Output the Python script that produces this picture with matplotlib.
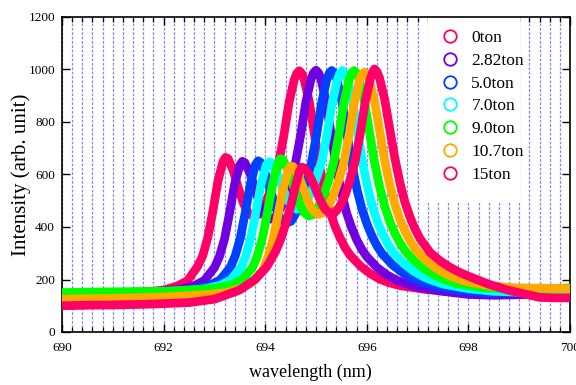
import matplotlib
matplotlib.use("Agg")
import matplotlib.pyplot as plt
from matplotlib.lines import Line2D
from matplotlib.patches import Rectangle
from matplotlib.ticker import MultipleLocator

# ---------------- data ----------------
labels = ["0ton", "2.82ton", "5.0ton", "7.0ton", "9.0ton", "10.7ton", "15ton"]
colors = ["#FF0066", "#7000E0", "#0040FF", "#00FFFF", "#00FF00", "#FFAA00", "#FF0066"]

wl_0 = [690.0, 690.5, 691.0, 691.5, 692.0, 692.27, 692.47, 692.67, 692.77, 692.87, 692.97, 693.07,
        693.17, 693.22, 693.27, 693.37, 693.47, 693.57, 693.67, 693.77, 693.87, 693.97, 694.07,
        694.17, 694.27, 694.37, 694.47, 694.57, 694.62, 694.67, 694.72, 694.77, 694.87, 694.97,
        695.07, 695.17, 695.27, 695.37, 695.47, 695.57, 695.67, 695.87, 696.07, 696.27, 696.47,
        696.67, 697.17, 697.67, 698.2, 698.7, 699.2, 699.6, 700.0]
int_0 = [135, 138, 142, 148, 160, 175, 195, 250, 290, 360, 460, 575,
         650, 665, 660, 615, 550, 490, 452, 440, 448, 478, 522,
         578, 648, 752, 875, 960, 985, 995, 985, 960, 875, 752,
         632, 538, 462, 405, 360, 322, 293, 252, 222, 200, 186,
         176, 162, 153, 148, 146, 144, 145, 143]

wl_282 = [690.0, 690.5, 691.0, 691.5, 692.0, 692.3, 692.6, 692.8, 693.0, 693.1, 693.2, 693.3,
          693.4, 693.5, 693.55, 693.6, 693.7, 693.8, 693.9, 694.0, 694.1, 694.2, 694.3, 694.4,
          694.5, 694.6, 694.7, 694.8, 694.9, 694.95, 695.0, 695.05, 695.1, 695.2, 695.3, 695.4,
          695.5, 695.6, 695.7, 695.8, 695.9, 696.0, 696.2, 696.4, 696.6, 696.8, 697.0, 697.5,
          698.0, 698.5, 699.0, 699.5, 700.0]
int_282 = [142, 144, 146, 150, 155, 162, 176, 196, 245, 288, 355, 455,
           565, 635, 650, 645, 605, 545, 482, 442, 430, 438, 470, 515,
           575, 648, 752, 875, 962, 987, 997, 987, 962, 875, 750, 628,
           532, 455, 398, 352, 315, 287, 246, 217, 196, 182, 170, 155,
           143, 140, 142, 145, 146]

wl_50 = [690.0, 690.5, 691.0, 691.5, 692.0, 692.5, 692.61, 692.91, 693.11, 693.31, 693.41, 693.51,
         693.61, 693.71, 693.81, 693.86, 693.91, 694.01, 694.11, 694.21, 694.31, 694.41, 694.51,
         694.61, 694.71, 694.81, 694.91, 695.01, 695.11, 695.21, 695.26, 695.31, 695.36, 695.41,
         695.51, 695.61, 695.71, 695.81, 695.91, 696.01, 696.11, 696.21, 696.31, 696.51, 696.71,
         696.91, 697.11, 697.31, 697.81, 698.3, 698.8, 699.3, 699.7, 700.0]
int_50 = [145, 148, 150, 152, 156, 160, 165, 178, 198, 245, 290, 358,
          458, 566, 638, 652, 646, 600, 535, 470, 428, 415, 422,
          455, 505, 570, 645, 750, 872, 960, 986, 996, 986, 962,
          878, 755, 635, 540, 465, 408, 362, 325, 296, 255, 225,
          203, 188, 176, 160, 150, 150, 148, 150, 148]

wl_70 = [690.0, 690.5, 691.0, 691.5, 692.0, 692.5, 692.82, 693.12, 693.32, 693.52, 693.62, 693.72,
         693.82, 693.92, 694.02, 694.07, 694.12, 694.22, 694.32, 694.42, 694.52, 694.62, 694.72,
         694.82, 694.92, 695.02, 695.12, 695.22, 695.32, 695.42, 695.47, 695.52, 695.57, 695.62,
         695.72, 695.82, 695.92, 696.02, 696.12, 696.22, 696.32, 696.42, 696.52, 696.72, 696.92,
         697.12, 697.32, 697.52, 698.0, 698.5, 699.0, 699.5, 700.0]
int_70 = [140, 143, 147, 150, 153, 158, 165, 178, 198, 245, 290, 360,
          460, 565, 635, 648, 645, 610, 560, 510, 480, 468, 475,
          500, 540, 592, 655, 755, 875, 960, 986, 996, 986, 962,
          880, 760, 642, 548, 472, 415, 370, 333, 303, 262, 232,
          210, 194, 182, 165, 155, 152, 152, 150]

wl_90 = [690.0, 690.5, 691.0, 691.5, 692.0, 692.5, 693.0, 693.35, 693.55, 693.75, 693.85, 693.95,
         694.05, 694.15, 694.25, 694.3, 694.35, 694.45, 694.55, 694.65, 694.75, 694.85, 694.95,
         695.05, 695.15, 695.25, 695.35, 695.45, 695.55, 695.65, 695.7, 695.75, 695.8, 695.85,
         695.95, 696.05, 696.15, 696.25, 696.35, 696.45, 696.55, 696.65, 696.75, 696.95, 697.15,
         697.35, 697.55, 697.75, 698.25, 698.75, 699.25, 699.75, 700.0]
int_90 = [150, 152, 153, 154, 155, 160, 166, 180, 200, 245, 292, 362,
          462, 568, 642, 660, 656, 618, 560, 500, 458, 442, 448,
          478, 522, 578, 648, 752, 875, 960, 986, 996, 986, 962,
          882, 765, 648, 555, 480, 422, 377, 340, 310, 268, 238,
          215, 198, 186, 170, 165, 165, 166, 168]

wl_107 = [690.0, 690.5, 691.0, 691.5, 692.0, 692.5, 693.0, 693.25, 693.55, 693.75, 693.95, 694.05,
          694.15, 694.25, 694.35, 694.45, 694.5, 694.55, 694.65, 694.75, 694.85, 694.95, 695.05,
          695.15, 695.25, 695.35, 695.45, 695.55, 695.65, 695.75, 695.85, 695.9, 695.95, 696.0,
          696.05, 696.15, 696.25, 696.35, 696.45, 696.55, 696.65, 696.75, 696.85, 696.95, 697.15,
          697.35, 697.55, 697.75, 697.95, 698.45, 698.95, 699.45, 700.0]
int_107 = [125, 127, 128, 130, 133, 138, 145, 150, 168, 190, 235, 282,
           350, 445, 545, 615, 632, 630, 600, 548, 495, 460, 448,
           455, 482, 525, 580, 648, 750, 870, 955, 980, 990, 982,
           958, 882, 770, 655, 562, 488, 430, 385, 348, 318, 275,
           245, 222, 205, 193, 175, 168, 167, 165]

wl_15 = [690.0, 690.5, 691.0, 691.5, 692.0, 692.5, 693.0, 693.5, 693.8, 694.03, 694.2, 694.3,
         694.4, 694.5, 694.6, 694.67, 694.72, 694.77, 694.87, 694.97, 695.07, 695.17, 695.27,
         695.37, 695.47, 695.57, 695.67, 695.77, 695.87, 695.97, 696.07, 696.12, 696.15, 696.2,
         696.25, 696.35, 696.45, 696.55, 696.65, 696.75, 696.85, 696.95, 697.05, 697.25, 697.45,
         697.65, 697.85, 698.1, 698.4, 698.77, 699.1, 699.4, 699.7, 700.0]
int_15 = [100, 102, 103, 105, 108, 112, 125, 160, 200, 248, 305, 350,
          410, 476, 560, 610, 628, 625, 598, 555, 508, 470, 452,
          455, 478, 520, 578, 650, 755, 878, 965, 992, 1002, 992,
          968, 888, 775, 665, 570, 495, 438, 392, 355, 302, 270,
          245, 225, 205, 182, 160, 145, 132, 130, 130]

series_wl = [wl_0, wl_282, wl_50, wl_70, wl_90, wl_107, wl_15]
series_int = [int_0, int_282, int_50, int_70, int_90, int_107, int_15]

x_major = [690, 692, 694, 696, 698, 700]
y_major = [0, 200, 400, 600, 800, 1000, 1200]

# ---------------- figure ----------------
plt.rcParams['font.family'] = ['Liberation Serif', 'DejaVu Serif']
fig = plt.figure(figsize=(5.76, 3.85), dpi=100)
ax = fig.add_axes([62/576, 53/385, 508/576, 315/385])

for wl, it, c in zip(series_wl, series_int, colors):
    ax.plot(wl, it, color=c, lw=6.3, solid_joinstyle='round', solid_capstyle='round',
            zorder=3)

ax.set_xlim(690, 700)
ax.set_ylim(0, 1200)
ax.set_xticks(x_major)
ax.set_yticks(y_major)
ax.xaxis.set_minor_locator(MultipleLocator(0.2))

ax.set_axisbelow(True)
ax.grid(True, which='both', axis='x', color='#8484ff', lw=0.9,
        linestyle=(0, (2.2, 1.3)))

ax.tick_params(axis='both', which='major', direction='in', length=5.5, width=1.0,
               top=True, right=True, labelsize=9.5)
ax.tick_params(axis='x', which='minor', direction='in', length=3.5, width=0.9, top=True)
ax.tick_params(axis='x', which='major', pad=7)
ax.tick_params(axis='y', which='major', pad=5)
for s in ax.spines.values():
    s.set_linewidth(1.2)

fig.text(0.036, 0.545, "Intensity (arb. unit)", rotation=90, ha='center', va='center',
         fontsize=15)
fig.text(0.538, 0.034, "wavelength (nm)", ha='center', va='center', fontsize=13)

# white background of the legend area (hides the grid like the reference)
ax.add_patch(Rectangle(((428 - 62) / 508, (332 - 203) / 315), (520 - 428) / 508,
                       1 - (332 - 203) / 315, transform=ax.transAxes,
                       facecolor='white', edgecolor='none', zorder=1))

handles = [Line2D([], [], linestyle='none', marker='o', markersize=9, markerfacecolor='none',
                  markeredgecolor=c, markeredgewidth=1.3) for c in colors]
leg = ax.legend(handles, labels, loc='upper left', bbox_to_anchor=(366/508, 1.0),
                borderaxespad=0, frameon=False, fontsize=12.5, handlelength=1.0,
                handletextpad=0.75, borderpad=0.75, labelspacing=0.38)
leg.set_zorder(5)

fig.savefig("out.png", dpi=100)
